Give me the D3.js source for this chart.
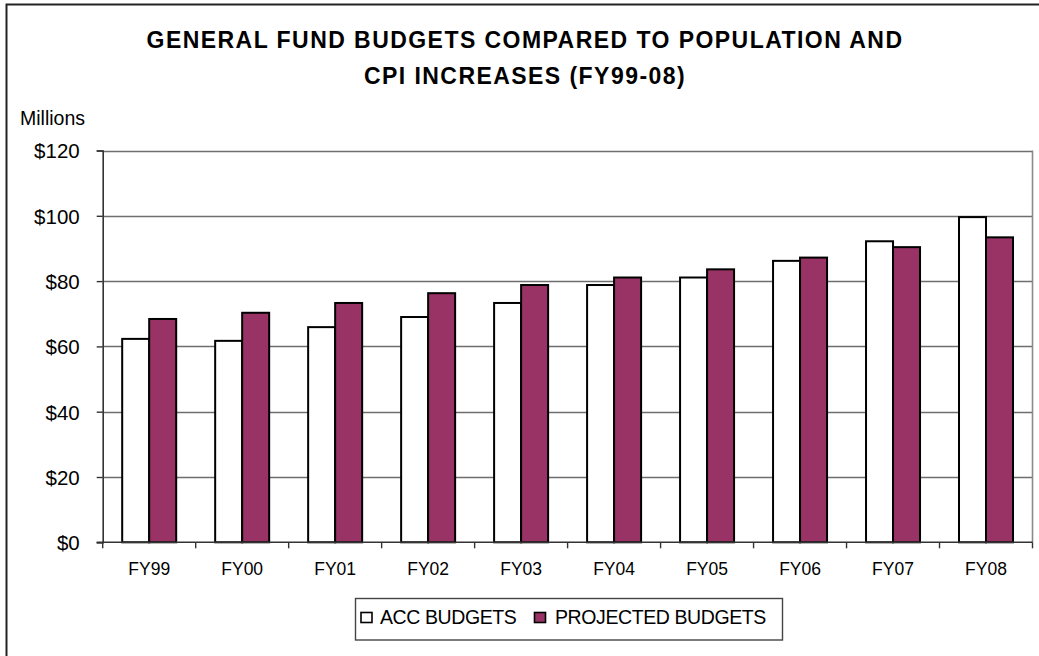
<!DOCTYPE html>
<html>
<head>
<meta charset="utf-8">
<script src="https://cdn.jsdelivr.net/npm/d3@7"></script>
<style>
  html, body { margin: 0; padding: 0; background: #fff; }
  svg { display: block; font-family: "Liberation Sans", Arial, sans-serif; }
</style>
</head>
<body>
<svg id="chart" width="1039" height="656"></svg>
<script>
const categories = ["FY99","FY00","FY01","FY02","FY03","FY04","FY05","FY06","FY07","FY08"];
const accBudgets = [62.3, 61.7, 65.9, 69.0, 73.3, 78.8, 81.1, 86.2, 92.2, 99.6];
const projectedBudgets = [68.4, 70.3, 73.3, 76.3, 78.8, 81.1, 83.6, 87.2, 90.4, 93.4];
const seriesNames = ["ACC BUDGETS", "PROJECTED BUDGETS"];
const seriesColors = ["#ffffff", "#993366"];
const yTicks = [0, 20, 40, 60, 80, 100, 120];
const titleLines = ["GENERAL FUND BUDGETS COMPARED TO POPULATION AND", "CPI INCREASES (FY99-08)"];

const svg = d3.select("#chart");
const plot = { left: 102.7, right: 1032.5, top: 150.5, bottom: 542.3 };

// outer chart border
svg.append("rect").attr("x", 6.5).attr("y", 4.5).attr("width", 1040).attr("height", 660)
  .attr("fill", "#fff").attr("stroke", "#222").attr("stroke-width", 2);

// title
svg.append("g").selectAll("text").data(titleLines).join("text")
  .attr("x", 525).attr("y", (d, i) => 48 + i * 36)
  .attr("text-anchor", "middle").attr("font-weight", "bold").attr("font-size", 23)
  .attr("letter-spacing", 1.45).attr("fill", "#000").text(d => d);

const x = d3.scaleBand().domain(categories).range([plot.left, plot.right]).padding(0);
const groupW = 54;
const xs = d3.scaleBand().domain(seriesNames)
  .range([(x.bandwidth() - groupW) / 2, (x.bandwidth() + groupW) / 2]).padding(0);
const y = d3.scaleLinear().domain([0, 120]).range([plot.bottom, plot.top]);

// gridlines
svg.append("g").selectAll("line").data(yTicks.filter(t => t > 0)).join("line")
  .attr("x1", plot.left).attr("x2", plot.right)
  .attr("y1", d => Math.round(y(d)) + 0.5).attr("y2", d => Math.round(y(d)) + 0.5)
  .attr("stroke", "#6e6e6e").attr("stroke-width", 1.4);
// plot area right border
svg.append("line").attr("x1", plot.right).attr("x2", plot.right)
  .attr("y1", plot.top).attr("y2", plot.bottom)
  .attr("stroke", "#8a8a8a").attr("stroke-width", 1.6);

// bars
const data = categories.map((c, i) => ({ c, vals: [accBudgets[i], projectedBudgets[i]] }));
const groups = svg.append("g").selectAll("g").data(data).join("g")
  .attr("transform", d => `translate(${x(d.c)},0)`);
groups.selectAll("rect").data(d => d.vals.map((v, j) => ({ v, s: seriesNames[j], j }))).join("rect")
  .attr("x", d => xs(d.s)).attr("width", xs.bandwidth())
  .attr("y", d => y(d.v)).attr("height", d => y(0) - y(d.v))
  .attr("fill", d => seriesColors[d.j]).attr("stroke", "#000").attr("stroke-width", 2);

// y axis
const yAxis = d3.axisLeft(y).tickValues(yTicks).tickSize(6).tickPadding(17)
  .tickFormat(d => "$" + d);
const ya = svg.append("g").attr("transform", `translate(${plot.left},0)`).call(yAxis);
ya.select(".domain").attr("stroke", "#333").attr("stroke-width", 1.6);
ya.selectAll(".tick line").attr("stroke", "#333").attr("stroke-width", 1.4);
ya.selectAll(".tick text").attr("font-size", 20.5).attr("fill", "#000")
  .attr("font-family", "'Liberation Sans', Arial, sans-serif").attr("dy", "0.36em");

// x axis
const xAxis = d3.axisBottom(x).tickSize(0).tickPadding(0);
const xa = svg.append("g").attr("transform", `translate(0,${plot.bottom})`).call(xAxis);
xa.select(".domain").remove();
xa.append("line").attr("x1", plot.left - 6).attr("x2", plot.right).attr("y1", 0).attr("y2", 0)
  .attr("stroke", "#333").attr("stroke-width", 1.6);
xa.selectAll(".tick text").attr("font-size", 17.5).attr("fill", "#000")
  .attr("font-family", "'Liberation Sans', Arial, sans-serif").attr("y", 33).attr("dy", 0);
// category boundary ticks
const bounds = categories.map(c => x(c)).concat([plot.right]);
xa.append("g").selectAll("line").data(bounds).join("line")
  .attr("x1", d => d).attr("x2", d => d).attr("y1", 0).attr("y2", 6)
  .attr("stroke", "#333").attr("stroke-width", 1.4);

// "Millions" label
svg.append("text").attr("x", 20).attr("y", 125).attr("font-size", 19.5)
  .attr("fill", "#000").text("Millions");

// legend
const leg = svg.append("g");
leg.append("rect").attr("x", 355.5).attr("y", 598.5).attr("width", 427).attr("height", 41.5)
  .attr("fill", "#fff").attr("stroke", "#444").attr("stroke-width", 1.4);
const legSq = [361, 534.5];
const legTx = [380, 555];
const li = leg.selectAll("g.item").data(seriesNames).join("g").attr("class", "item");
li.append("rect").attr("x", (d, i) => legSq[i]).attr("y", 612.5).attr("width", 11).attr("height", 10)
  .attr("fill", (d, i) => seriesColors[i]).attr("stroke", "#000").attr("stroke-width", 1.6);
li.append("text").attr("x", (d, i) => legTx[i]).attr("y", 623.5)
  .attr("font-size", 19.5).attr("letter-spacing", -0.4).attr("fill", "#000").text(d => d);
</script>
</body>
</html>
